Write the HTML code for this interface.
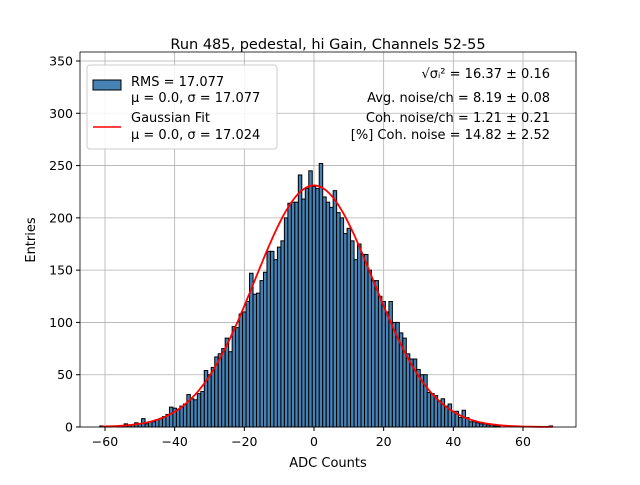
<!DOCTYPE html>
<html><head><meta charset="utf-8"><style>
body{margin:0;background:#fff;font-family:"Liberation Sans","DejaVu Sans",sans-serif}
</style></head><body>
<svg width="640" height="480" viewBox="0 0 640 480" font-family="DejaVu Sans, Liberation Sans, sans-serif">
<rect width="640" height="480" fill="#fff"/>
<g id="grid"></g>
<g id="bars"></g>
<path id="fit" fill="none" stroke="#ff0000" stroke-width="1.8"/>
<rect x="80" y="52" width="496" height="375" fill="none" stroke="#000" stroke-width="0.8"/>
<g id="ticks" font-size="12.5"></g>
<text x="328" y="49" text-anchor="middle" font-size="14.5">Run 485, pedestal, hi Gain, Channels 52-55</text>
<text x="328" y="467" text-anchor="middle" font-size="13">ADC Counts</text>
<text transform="translate(35,240) rotate(-90)" text-anchor="middle" font-size="13">Entries</text>
<g>
<rect x="87" y="65" width="190" height="84" rx="3" fill="#fff" fill-opacity="0.85" stroke="#ccc"/>
<rect x="93" y="80" width="28" height="10" fill="#4682b4" stroke="#000"/>
<text x="131" y="86" font-size="13">RMS = 17.077</text>
<text x="131" y="102" font-size="13">μ = 0.0, σ = 17.077</text>
<line x1="93" y1="127" x2="121" y2="127" stroke="#f00" stroke-width="1.5"/>
<text x="131" y="122" font-size="13">Gaussian Fit</text>
<text x="131" y="139" font-size="13">μ = 0.0, σ = 17.024</text>
</g>
<g font-size="13" text-anchor="end">
<text x="550" y="78">√σᵢ² = 16.37 ± 0.16</text>
<text x="550" y="102">Avg. noise/ch = 8.19 ± 0.08</text>
<text x="550" y="122">Coh. noise/ch = 1.21 ± 0.21</text>
<text x="550" y="139">[%] Coh. noise = 14.82 ± 2.52</text>
</g>
</svg>
<script>
const binStart=-61.5;
const binWidth=1;
const counts=[1,0,1,0,0,1,1,3,2,2,4,3,8,3,5,5,7,8,10,12,19,18,17,20,22,31,27,26,32,34,54,50,57,67,70,75,85,72,96,95,108,110,120,147,127,128,140,148,168,168,160,172,178,200,214,215,215,241,218,228,245,230,228,252,220,215,210,226,205,200,185,190,178,160,175,165,165,150,140,140,125,120,110,120,100,100,90,85,70,65,65,55,50,50,33,32,30,25,27,20,22,15,15,9,16,9,5,5,4,3,3,2,2,1,1,0,0,0,0,0,0,0,0,0,0,0,0,0,0,1];
const fitMu=0, fitSigma=17.024, fitAmp=231;
const xTicks=[-60,-40,-20,0,20,40,60];
const yTicks=[0,50,100,150,200,250,300,350];
const X=v=>314+(v)*418/120;
const Y=v=>427-v*366/350;
const ns="http://www.w3.org/2000/svg";
function mk(t,a){const e=document.createElementNS(ns,t);for(const k in a)e.setAttribute(k,a[k]);return e;}
const grid=document.getElementById('grid'),ticks=document.getElementById('ticks'),bars=document.getElementById('bars');
xTicks.forEach(t=>{
 const l=mk('line',{x1:X(t),x2:X(t),y1:52,y2:427,stroke:'#b0b0b0','stroke-width':0.8});
 
 
 grid.appendChild(l);
 const tk=mk('line',{x1:X(t),x2:X(t),y1:427,y2:431,stroke:'#000'});
 
 
 ticks.appendChild(tk);
 const tx=mk('text',{x:X(t),y:446,'text-anchor':'middle'});tx.textContent=t<0?'\u2212'+(-t):t;
 
 
 ticks.appendChild(tx);
});
yTicks.forEach(t=>{
 const l=mk('line',{x1:80,x2:576,y1:Y(t),y2:Y(t),stroke:'#b0b0b0','stroke-width':0.8});
 
 
 grid.appendChild(l);
 const tk=mk('line',{x1:76,x2:80,y1:Y(t),y2:Y(t),stroke:'#000'});
 
 
 ticks.appendChild(tk);
 const tx=mk('text',{x:73,y:Y(t)+4.5,'text-anchor':'end'});tx.textContent=t;
 
 
 ticks.appendChild(tx);
});
counts.forEach((c,i)=>{
 if(c<=0)return;
 const x0=X(binStart+i*binWidth),x1=X(binStart+(i+1)*binWidth);
 const r=mk('rect',{x:x0,y:Y(c),width:x1-x0,height:Y(0)-Y(c),fill:'#4682b4',stroke:'#000','stroke-width':1});
 
 
 bars.appendChild(r);
});
let d='';
for(let v=-61;v<=68.5;v+=0.5){const g=fitAmp*Math.exp(-((v-fitMu)**2)/(2*fitSigma*fitSigma));d+=(d?'L':'M')+X(v).toFixed(1)+','+Y(g).toFixed(1);}
document.getElementById('fit').setAttribute('d',d);
</script>
</body></html>
